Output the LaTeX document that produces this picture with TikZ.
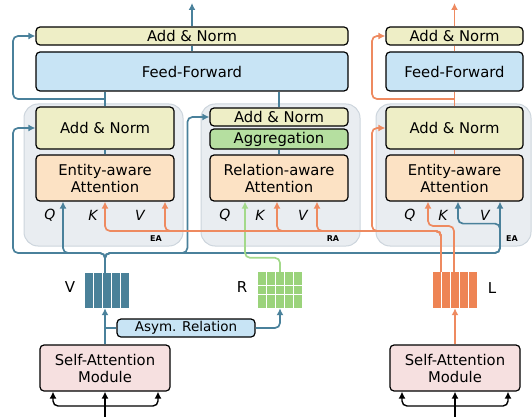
\documentclass[tikz,border=0pt]{standalone}
\usepackage{fontspec}
\setmainfont{DejaVu Sans}
\usetikzlibrary{arrows.meta}

\definecolor{flowblue}{HTML}{4A819B}
\definecolor{floworange}{HTML}{EE8A60}
\definecolor{flowgreen}{HTML}{A3D98A}
\definecolor{vecblue}{HTML}{4A8199}
\definecolor{vecorange}{HTML}{EE8454}
\definecolor{vecgreen}{HTML}{9BD37B}
\definecolor{normfill}{HTML}{EEEEC6}
\definecolor{fffill}{HTML}{C8E4F5}
\definecolor{attfill}{HTML}{FCE2C4}
\definecolor{aggfill}{HTML}{B5DFA0}
\definecolor{safill}{HTML}{F6E0E0}
\definecolor{regionfill}{HTML}{E9EDF1}
\definecolor{regionline}{HTML}{CDD5DD}

\tikzset{
    region/.style={draw=regionline, fill=regionfill, line width=1pt, rounded corners=14pt},
    blockbox/.style={draw=black, line width=1.2pt, rounded corners=4pt, inner sep=0pt, align=center, font=\fontsize{14.8}{17}\selectfont},
    normbox/.style={blockbox, fill=normfill},
    ffbox/.style={blockbox, fill=fffill},
    attbox/.style={blockbox, fill=attfill},
    aggbox/.style={blockbox, fill=aggfill},
    sabox/.style={blockbox, fill=safill},
    asymbox/.style={blockbox, fill=fffill, font=\fontsize{13.5}{15}\selectfont},
    vecnode/.style={inner sep=0pt},
    veclabel/.style={font=\fontsize{15}{15}\selectfont},
    qkv/.style={font=\itshape\fontsize{14}{14}\selectfont},
    tag/.style={font=\bfseries\fontsize{8}{8}\selectfont},
    flow/.style={line width=1.7pt, rounded corners=5pt},
    bflow/.style={flow, draw=flowblue},
    oflow/.style={flow, draw=floworange},
    gflow/.style={flow, draw=flowgreen},
    kflow/.style={flow, draw=black, line width=1.4pt},
    tip/.style={-{Latex[length=7pt,width=7pt]}}
}

\begin{document}
\begin{tikzpicture}[x=1pt,y=-1pt]
                \useasboundingbox (0,0) rectangle (532,417);

                \node[region, minimum width=159, minimum height=142] (eaL) at (103.5,175) {};
                \node[region, minimum width=159, minimum height=142] (ra) at (280.5,175) {};
                \node[region, minimum width=155, minimum height=142] (eaR) at (453.5,175) {};

                \node[normbox, minimum width=312, minimum height=18] (topnormL) at (192,36) {Add \& Norm};
                \node[ffbox, minimum width=312, minimum height=39] (ffL) at (192,71.5) {Feed-Forward};
                \node[normbox, minimum width=138, minimum height=42] (eanormL) at (105,128) {Add \& Norm};
                \node[attbox, minimum width=138, minimum height=46] (eaattL) at (105,178) {Entity-aware\\Attention};

                \node[normbox, minimum width=138, minimum height=18] (ranorm) at (279,117) {Add \& Norm};
                \node[aggbox, minimum width=138, minimum height=20] (agg) at (279,139) {Aggregation};
                \node[attbox, minimum width=138, minimum height=46] (raatt) at (279,178) {Relation-aware\\Attention};

                \node[normbox, minimum width=137, minimum height=18] (topnormR) at (454.5,36) {Add \& Norm};
                \node[ffbox, minimum width=137, minimum height=39] (ffR) at (454.5,71.5) {Feed-Forward};
                \node[normbox, minimum width=137, minimum height=42] (eanormR) at (454.5,128) {Add \& Norm};
                \node[attbox, minimum width=137, minimum height=46] (eaattR) at (454.5,178) {Entity-aware\\Attention};

                \node[sabox, minimum width=130, minimum height=46] (saL) at (105,368) {Self-Attention\\Module};
                \node[sabox, minimum width=130, minimum height=46] (saR) at (455,368) {Self-Attention\\Module};
                \node[asymbox, minimum width=138, minimum height=18] (asym) at (186,328) {Asym. Relation};

                \node[qkv] (qL) at (50,215) {Q};
                \node[qkv] (kL) at (93,215) {K};
                \node[qkv] (vL) at (140,215) {V};
                \node[qkv] (qRA) at (225,215) {Q};
                \node[qkv] (kRA) at (260,215) {K};
                \node[qkv] (vRA) at (303,215) {V};
                \node[qkv] (qR) at (410,215) {Q};
                \node[qkv] (kR) at (443,215) {K};
                \node[qkv] (vR) at (485,215) {V};

                \node[tag] (tagL) at (156,239) {EA};
                \node[tag] (tagRA) at (333,239) {RA};
                \node[tag] (tagR) at (512,239) {EA};

                \node[vecnode, minimum width=45, minimum height=35] (vvec) at (107.5,290.5) {};
                \node[vecnode, minimum width=44, minimum height=36] (rmat) at (280,290) {};
                \node[vecnode, minimum width=45, minimum height=36] (lvec) at (455,290) {};
                \foreach \x in {85,94,103,112,121}
                    \fill[vecblue] (\x,273) rectangle ++(8,35);
                \foreach \x in {258,267,276,285,294}
                    \foreach \y/\h in {272/13,286/8,295/13}
                        \fill[vecgreen] (\x,\y) rectangle ++(8,\h);
                \foreach \x in {433,442,451,460,469}
                    \fill[vecorange] (\x,272) rectangle ++(8,36);
                \node[veclabel] (vname) at (70,287) {V};
                \node[veclabel] (rname) at (242,287) {R};
                \node[veclabel] (lname) at (492,288) {L};

                \coordinate (outL) at (192,3);
                \coordinate (resL) at (13,99);
                \coordinate (resR) at (372,99);
                \coordinate (vbus) at (105,253);
                \coordinate (lbus) at (441,231);
                \coordinate (lq) at (454,226);
                \coordinate (inL) at (105,406);
                \coordinate (inR) at (455,406);

                \draw[bflow] (eaattL) -- (eanormL);
                \draw[bflow] (eanormL.north) -- (eanormL.north |- ffL.south);
                \draw[bflow] (ffL) -- (topnormL);
                \draw[bflow, tip] (topnormL.north) -- (outL);
                \draw[bflow, tip] (eanormL.north |- resL) -- (resL) |- (topnormL.west);

                \draw[bflow] (raatt) -- (agg);
                \draw[bflow] (ranorm.north) -- (ranorm.north |- ffL.south);

                \draw[bflow, tip] (vbus |- vvec.north) -- (vbus) -| (resL |- eanormL.west) -- (eanormL.west);
                \draw[bflow, tip] (vbus |- vvec.north) -- (vbus) -| ([xshift=-42pt]eaattL.south);
                \draw[bflow, tip] (vbus |- vvec.north) -- (vbus) -| ([xshift=-22pt]ranorm.west) -- (ranorm.west);
                \draw[bflow, tip] (vbus |- vvec.north) -- (vbus) -| ([xshift=45.5pt]eaattR.south);
                \draw[bflow, tip] (vbus |- vvec.north) -- (vbus) -| ([xshift=45.5pt,yshift=-22pt]eaattR.south) -| ([xshift=3.5pt]eaattR.south);

                \draw[gflow, tip] (rmat.north) -- ([yshift=14pt]rmat.north) -| ([xshift=-34pt]raatt.south);

                \draw[bflow, tip] (saL.north) -- (saL.north |- vvec.south);
                \draw[bflow] (saL.north |- asym.west) -- (asym.west);
                \draw[bflow, tip] (asym.east) -| (rmat.south);

                \draw[oflow, tip] (lbus |- lvec.north) -- (lbus) -| (eaattL.south);
                \draw[oflow, tip] (lbus |- lvec.north) -- (lbus) -| ([xshift=60pt]eaattL.south);
                \draw[oflow, tip] (lbus |- lvec.north) -- (lbus) -| ([xshift=-2pt]raatt.south);
                \draw[oflow, tip] (lbus |- lvec.north) -- (lbus) -| ([xshift=38pt]raatt.south);
                \draw[oflow, tip] (lbus |- lvec.north) -- (lbus) -| (resR |- eanormR.west) -- (eanormR.west);
                \draw[oflow, tip] (lq |- lvec.north) -- (lq) -| ([xshift=-26.5pt]eaattR.south);
                \draw[oflow, tip] (saR.north) -- (saR.north |- lvec.south);

                \draw[oflow] (eaattR) -- (eanormR);
                \draw[oflow] (eanormR.north) -- (eanormR.north |- ffR.south);
                \draw[oflow] (ffR) -- (topnormR);
                \draw[oflow, tip] (topnormR.north) -- (topnormR.north |- outL);
                \draw[oflow, tip] (eanormR.north |- resR) -- (resR) |- (topnormR.west);

                \draw[kflow, tip] ([yshift=-11pt]inL) -- (saL.south);
                \draw[kflow, tip] (inL) -| ([xshift=-52pt]saL.south);
                \draw[kflow, tip] (inL) -| ([xshift=53pt]saL.south);
                \draw[kflow, tip] ([yshift=-11pt]inR) -- (saR.south);
                \draw[kflow, tip] (inR) -| ([xshift=-53pt]saR.south);
                \draw[kflow, tip] (inR) -| ([xshift=53pt]saR.south);
\end{tikzpicture}
\end{document}
